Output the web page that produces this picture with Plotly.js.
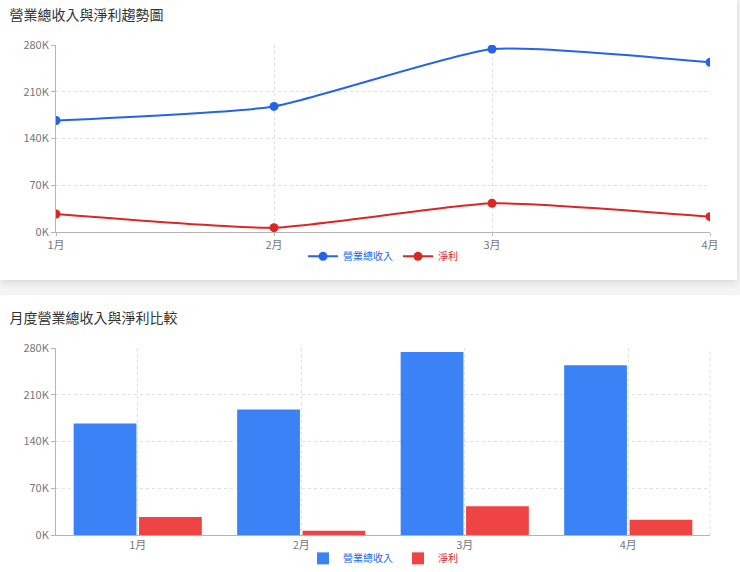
<!DOCTYPE html>
<html>
<head>
<meta charset="utf-8">
<script src="https://cdn.plot.ly/plotly-3.0.1.min.js"></script>
<style>
  html, body { margin: 0; padding: 0; background: #f4f4f4; width: 740px; height: 572px; overflow: hidden; }
  #card1 { position: absolute; left: 0; top: 0; width: 737px; height: 280px; background: #fff; box-shadow: 0 2px 8px rgba(0,0,0,0.12); }
  #card2 { position: absolute; left: 0; top: 295px; width: 740px; height: 277px; background: #fff; }
  #c1, #c2 { width: 100%; height: 100%; }
</style>
</head>
<body>
<div id="card1"><div id="c1"></div></div>
<div id="card2"><div id="c2"></div></div>
<script>
const months = ['1月', '2月', '3月', '4月'];
const revenue = [167000, 188000, 274000, 254000];
const netProfit = [27000, 6500, 43000, 23000];
const yTickVals = [0, 70000, 140000, 210000, 280000];
const yTickText = ['0K', '70K', '140K', '210K', '280K'];
const revenueName = '營業總收入';
const profitName = '淨利';

const FONT = '"Noto Sans CJK TC", "Noto Sans", sans-serif';

function yAxis() {
  return {
    range: [0, 280000], tickvals: yTickVals, ticktext: yTickText,
    showline: true, linecolor: '#b5b5b5', linewidth: 1,
    ticks: 'outside', ticklen: 4, tickcolor: '#b5b5b5',
    gridcolor: '#e0e0e0', griddash: 'dot', gridwidth: 1,
    zeroline: false, fixedrange: true, automargin: false,
    tickfont: { size: 11, color: '#777', family: FONT }
  };
}

const lineLayout = {
  width: 737, height: 280,
  margin: { l: 56, r: 27, t: 45, b: 48, autoexpand: false },
  paper_bgcolor: '#fff', plot_bgcolor: '#fff',
  font: { family: FONT },
  title: { text: '營業總收入與淨利趨勢圖', x: 0.013, xanchor: 'left', y: 0.945, yanchor: 'middle',
           font: { size: 14, color: '#333', family: FONT } },
  xaxis: {
    type: 'category', range: [0, 3], automargin: false,
    showline: true, linecolor: '#b5b5b5', linewidth: 1,
    ticks: 'outside', ticklen: 3, tickcolor: '#b5b5b5',
    showgrid: true, gridcolor: '#e0e0e0', griddash: 'dot',
    tickfont: { size: 11, color: '#777', family: FONT }
  },
  yaxis: yAxis(),
  showlegend: true,
  legend: { orientation: 'h', x: 0.5, xanchor: 'center', y: -0.13, yanchor: 'middle',
            bgcolor: 'rgba(0,0,0,0)',
            font: { size: 10, family: FONT }, itemwidth: 30, tracegroupgap: 0 },
  hovermode: false
};

const lineData = [
  { x: months, y: revenue, type: 'scatter', mode: 'lines+markers',
    name: '<span style="color:#2563eb">' + revenueName + '</span>',
    line: { color: '#2563eb', width: 2, shape: 'spline', smoothing: 0.5 },
    marker: { color: '#2563eb', size: 9 } },
  { x: months, y: netProfit, type: 'scatter', mode: 'lines+markers',
    name: '<span style="color:#dc2626">' + profitName + '</span>',
    line: { color: '#dc2626', width: 2, shape: 'spline', smoothing: 0.5 },
    marker: { color: '#dc2626', size: 9 } }
];

Plotly.newPlot('c1', lineData, lineLayout, { displayModeBar: false, staticPlot: true });

const barLayout = {
  width: 740, height: 277,
  margin: { l: 56, r: 30, t: 53, b: 37, autoexpand: false },
  paper_bgcolor: '#fff', plot_bgcolor: '#fff',
  font: { family: FONT },
  title: { text: '月度營業總收入與淨利比較', x: 0.013, xanchor: 'left', y: 0.917, yanchor: 'middle',
           font: { size: 14, color: '#333', family: FONT } },
  barmode: 'group', bargap: 0.2, bargroupgap: 0.04,
  xaxis: {
    type: 'category', automargin: false,
    showline: true, linecolor: '#b5b5b5', linewidth: 1,
    ticks: '', showgrid: true, gridcolor: '#e0e0e0', griddash: 'dot',
    tickfont: { size: 11, color: '#777', family: FONT }
  },
  yaxis: yAxis(),
  shapes: [
    { type: 'line', xref: 'paper', yref: 'paper', x0: 1, x1: 1, y0: 0, y1: 1,
      line: { color: '#e0e0e0', width: 1, dash: 'dot' }, layer: 'below' }
  ],
  showlegend: true,
  legend: { orientation: 'h', x: 0.5, xanchor: 'center', y: -0.125, yanchor: 'middle',
            bgcolor: 'rgba(0,0,0,0)',
            font: { size: 10, family: FONT }, itemwidth: 30 },
  hovermode: false
};

const barData = [
  { x: months, y: revenue, type: 'bar',
    name: '<span style="color:#2563eb">' + revenueName + '</span>',
    marker: { color: '#3b82f6' } },
  { x: months, y: netProfit, type: 'bar',
    name: '<span style="color:#dc2626">' + profitName + '</span>',
    marker: { color: '#ef4444' } }
];

Plotly.newPlot('c2', barData, barLayout, { displayModeBar: false, staticPlot: true });
</script>
</body>
</html>
